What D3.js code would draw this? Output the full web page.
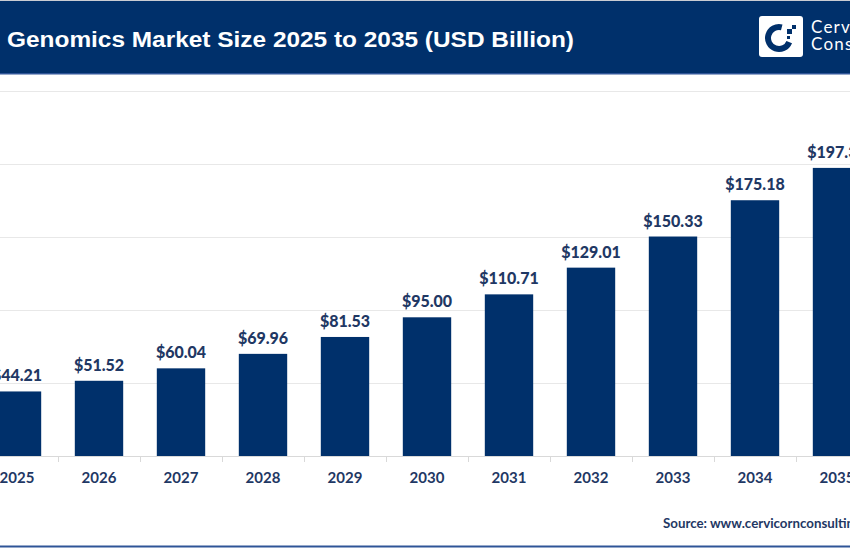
<!DOCTYPE html>
<html>
<head>
<meta charset="utf-8">
<script src="https://cdn.jsdelivr.net/npm/d3@7"></script>
<style>
  body { margin: 0; background: #fff; }
  svg { display: block; }
</style>
</head>
<body>
<div id="chart"></div>
<script>
// chart data
var years = ["2025", "2026", "2027", "2028", "2029", "2030", "2031", "2032", "2033", "2034", "2035"];
var marketSize = [44.21, 51.52, 60.04, 69.96, 81.53, 95.00, 110.71, 129.01, 150.33, 175.18, 197.33];
var gridTicks = [50, 100, 150, 200, 250];

var titleText = "Genomics Market Size 2025 to 2035 (USD Billion)";
var sourceText = "Source: www.cervicornconsulting.com";

var w = 850,
    h = 550,
    navy = "#00306b",
    textNavy = "#1f3864",
    labelFont = "Lato, 'Open Sans', sans-serif";

var svg = d3.select("#chart")
    .append("svg")
    .attr("width", w)
    .attr("height", h);

// header band
svg.append("rect")
    .attr("x", 0).attr("y", 0)
    .attr("width", w).attr("height", 74)
    .attr("fill", navy);
svg.append("rect") // thin grey line on top
    .attr("x", 0).attr("y", 0)
    .attr("width", w).attr("height", 1)
    .attr("fill", "#c9ccd3");
svg.append("rect") // lighter rule under the band
    .attr("x", 0).attr("y", 73)
    .attr("width", w).attr("height", 1.5)
    .attr("fill", "#2f5597");

// title is wide in the reference, so stretch it to its measured length
svg.append("text")
    .attr("x", 7)
    .attr("y", 47)
    .attr("fill", "#fff")
    .attr("textLength", 567)
    .attr("lengthAdjust", "spacingAndGlyphs")
    .style("font-family", "'Liberation Sans', Arial, sans-serif")
    .style("font-weight", "bold")
    .style("font-size", "22px")
    .text(titleText);

// logo
var logo = svg.append("g").attr("transform", "translate(759,16)");
logo.append("rect")
    .attr("width", 44).attr("height", 41)
    .attr("rx", 3)
    .attr("fill", "#fff");
logo.append("path")
    .attr("transform", "translate(20,22)")
    .attr("d", d3.arc()
        .innerRadius(8)
        .outerRadius(14)
        .startAngle(Math.PI * 0.62)
        .endAngle(Math.PI * 2.08)())
    .attr("fill", navy);
logo.append("rect").attr("x", 28).attr("y", 13).attr("width", 5).attr("height", 5).attr("fill", navy);
logo.append("rect").attr("x", 33).attr("y", 9).attr("width", 4).attr("height", 4).attr("fill", navy);
logo.append("rect").attr("x", 28).attr("y", 20).attr("width", 3).attr("height", 3).attr("fill", navy);

svg.append("text")
    .attr("x", 811).attr("y", 33)
    .attr("fill", "#fff")
    .style("font-family", labelFont)
    .style("font-size", "17px")
    .style("letter-spacing", "1.2px")
    .text("Cervicorn");
svg.append("text")
    .attr("x", 811).attr("y", 50)
    .attr("fill", "#fff")
    .style("font-family", labelFont)
    .style("font-size", "17px")
    .style("letter-spacing", "1.2px")
    .text("Consulting");

// scales
var xScale = d3.scaleBand()
    .domain(years)
    .range([-24, 878])
    .paddingInner(0.41)
    .paddingOuter(0.205);

var yScale = d3.scaleLinear()
    .domain([0, 250])
    .range([456, 91]);

// gridlines
svg.append("g")
    .selectAll("line")
    .data(gridTicks)
    .enter()
    .append("line")
    .attr("x1", 0).attr("x2", w)
    .attr("y1", function (d) { return Math.round(yScale(d)) + 0.5; })
    .attr("y2", function (d) { return Math.round(yScale(d)) + 0.5; })
    .attr("stroke", "#e8e8e8")
    .attr("stroke-width", 1.2);

// bars
svg.append("g")
    .selectAll("rect")
    .data(marketSize)
    .enter()
    .append("rect")
    .attr("x", function (d, i) { return xScale(years[i]); })
    .attr("y", function (d) { return yScale(d); })
    .attr("width", xScale.bandwidth())
    .attr("height", function (d) { return yScale(0) - yScale(d); })
    .attr("fill", navy);

// value labels
svg.append("g")
    .selectAll("text")
    .data(marketSize)
    .enter()
    .append("text")
    .attr("x", function (d, i) { return xScale(years[i]) + xScale.bandwidth() / 2; })
    .attr("y", function (d) { return yScale(d) - 10; })
    .attr("text-anchor", "middle")
    .attr("fill", textNavy)
    .style("font-family", labelFont)
    .style("font-weight", "900")
    .style("font-size", "16px")
    .text(function (d) { return "$" + d.toFixed(2); });

// x axis: ticks between the bars, like the spreadsheet chart
var xAxis = svg.append("g")
    .attr("transform", "translate(0," + yScale(0) + ")");
xAxis.append("line")
    .attr("x1", 0).attr("x2", w)
    .attr("y1", 0.5).attr("y2", 0.5)
    .attr("stroke", "#d9d9d9");
xAxis.selectAll(".sep")
    .data(years)
    .enter()
    .append("line")
    .attr("class", "sep")
    .attr("x1", function (d) { return Math.round(xScale(d) - xScale.step() * xScale.paddingInner() / 2) + 0.5; })
    .attr("x2", function (d) { return Math.round(xScale(d) - xScale.step() * xScale.paddingInner() / 2) + 0.5; })
    .attr("y1", 0).attr("y2", 6)
    .attr("stroke", "#d9d9d9");
xAxis.selectAll(".year")
    .data(years)
    .enter()
    .append("text")
    .attr("class", "year")
    .attr("x", function (d) { return xScale(d) + xScale.bandwidth() / 2; })
    .attr("y", 27)
    .attr("text-anchor", "middle")
    .attr("fill", textNavy)
    .style("font-family", labelFont)
    .style("font-weight", "bold")
    .style("font-size", "15px")
    .text(function (d) { return d; });

// source + bottom rule
svg.append("text")
    .attr("x", 663)
    .attr("y", 528)
    .attr("fill", textNavy)
    .style("font-family", labelFont)
    .style("font-weight", "bold")
    .style("font-size", "13.3px")
    .text(sourceText);

svg.append("rect")
    .attr("x", 0).attr("y", 545.5)
    .attr("width", w).attr("height", 2)
    .attr("fill", "#2f5597");
</script>
</body>
</html>
